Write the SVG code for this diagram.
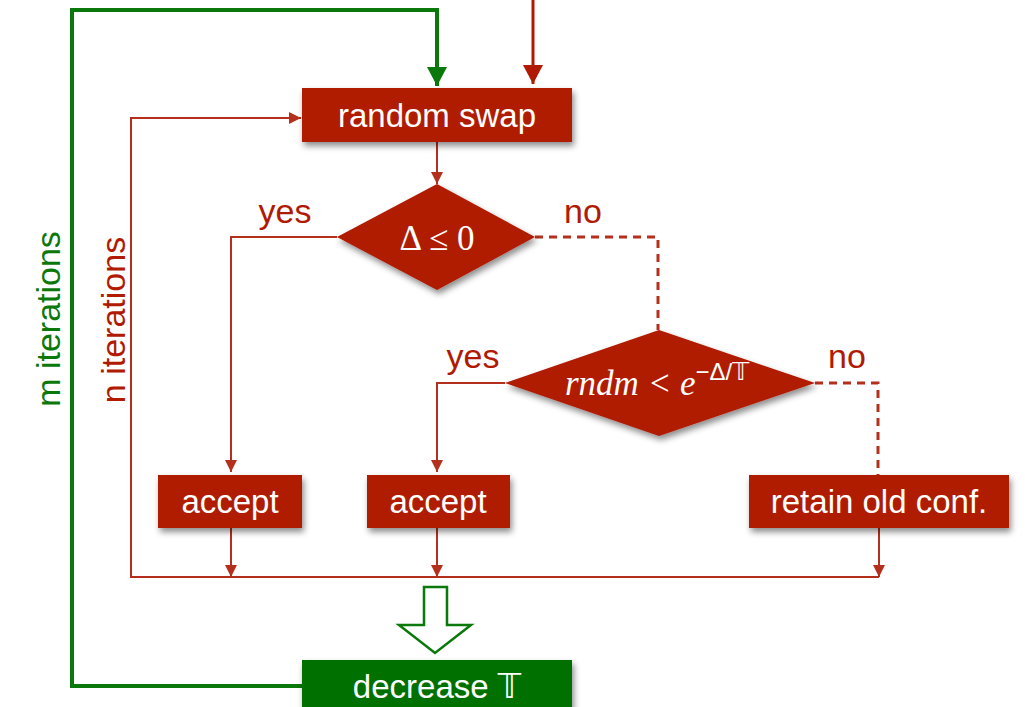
<svg xmlns="http://www.w3.org/2000/svg" width="1025" height="707" viewBox="0 0 1025 707">
  <style>
    .box { fill: #b01a02; filter: url(#shadow); }
    .gbox { fill: #006f00; filter: url(#shadow); }
    .lbl { font-family: "Liberation Sans", Arial, sans-serif; font-size: 33px; fill: #ffffff; text-anchor: middle; }
    .side { font-family: "Liberation Sans", Arial, sans-serif; font-size: 34px; fill: #b01a02; text-anchor: middle; }
    .red { fill: none; stroke: #b4301c; stroke-width: 2; }
    .redbig { fill: none; stroke: #b01a02; stroke-width: 3; }
    .dash { fill: none; stroke: #b4301c; stroke-width: 3; stroke-dasharray: 8 6; }
    .green { fill: none; stroke: #0a780a; stroke-width: 4; }
  </style>
  <defs>
    <filter id="shadow" x="-10%" y="-20%" width="125%" height="150%">
      <feDropShadow dx="2" dy="4" stdDeviation="3" flood-color="#000" flood-opacity="0.45"/>
    </filter>
    <marker id="arr" markerUnits="userSpaceOnUse" markerWidth="12" markerHeight="12" refX="12" refY="6" orient="auto">
      <path d="M0,0 L12,6 L0,12 z" fill="#b4301c"/>
    </marker>
    <marker id="arrBigRed" markerUnits="userSpaceOnUse" markerWidth="20" markerHeight="20" refX="19" refY="10" orient="auto">
      <path d="M0,0 L19,10 L0,20 z" fill="#b01a02"/>
    </marker>
    <marker id="arrBigGreen" markerUnits="userSpaceOnUse" markerWidth="20" markerHeight="20" refX="19" refY="10" orient="auto">
      <path d="M0,0 L19,10 L0,20 z" fill="#0a780a"/>
    </marker>
  </defs>

  <rect width="1025" height="707" fill="#ffffff"/>

  <!-- connectors -->
  <g id="connectors">
    <path class="green" d="M302,686 H72 V10 H437 V86" marker-end="url(#arrBigGreen)"/>
    <path class="redbig" d="M533,0 V84" marker-end="url(#arrBigRed)"/>
    <path class="red" d="M437,142 V184" marker-end="url(#arr)"/>
    <path class="red" d="M337,237 H231 V472" marker-end="url(#arr)"/>
    <path class="dash" d="M535,237 H658 V330"/>
    <path class="red" d="M505,383 H437 V472" marker-end="url(#arr)"/>
    <path class="dash" d="M815,383 H878 V475"/>
    <path class="red" d="M231,528 V577" marker-end="url(#arr)"/>
    <path class="red" d="M437,528 V577" marker-end="url(#arr)"/>
    <path class="red" d="M879,528 V577" marker-end="url(#arr)"/>
    <path class="red" d="M879,577 H131 V118 H301" marker-end="url(#arr)"/>
    <!-- hollow arrow into the cooling step -->
    <path d="M424,587 H447 V625 H471 L435,653 L399,625 H424 Z" fill="#ffffff" stroke="#0a780a" stroke-width="2.5" stroke-linejoin="miter"/>
  </g>

  <!-- loop labels -->
  <text class="side" transform="translate(60,319) rotate(-90)" style="fill:#0a780a">m iterations</text>
  <text class="side" transform="translate(125,320) rotate(-90)">n iterations</text>

  <!-- branch labels -->
  <text class="side" x="285" y="223">yes</text>
  <text class="side" x="583" y="223">no</text>
  <text class="side" x="473" y="368">yes</text>
  <text class="side" x="847" y="368">no</text>

  <g id="random-swap">
    <rect class="box" x="302" y="88" width="270" height="54"/>
    <text class="lbl" x="437" y="127">random swap</text>
  </g>

  <g id="test-delta">
    <polygon class="box" points="437,184 535,237 437,290 337,237"/>
    <text x="437" y="250" text-anchor="middle" font-family="'Liberation Serif', 'Times New Roman', serif" font-size="35" fill="#ffffff">Δ ≤ 0</text>
  </g>

  <g id="test-metropolis">
    <polygon class="box" points="659,330 815,383 659,436 505,383"/>
    <text x="565" y="395" font-family="'Liberation Serif', 'Times New Roman', serif" font-size="35" font-style="italic" fill="#ffffff">rndm &lt; e<tspan dy="-15" font-size="24" font-style="normal" font-family="'Liberation Sans', 'DejaVu Sans', sans-serif">−Δ/𝕋</tspan></text>
  </g>

  <g id="accept-1">
    <rect class="box" x="158" y="475" width="144" height="53"/>
    <text class="lbl" x="230" y="513">accept</text>
  </g>

  <g id="accept-2">
    <rect class="box" x="367" y="475" width="143" height="53"/>
    <text class="lbl" x="438" y="513">accept</text>
  </g>

  <g id="retain">
    <rect class="box" x="749" y="475" width="260" height="53"/>
    <text class="lbl" x="879" y="513">retain old conf.</text>
  </g>

  <g id="decrease-temperature">
    <rect class="gbox" x="302" y="660" width="270" height="54"/>
    <text class="lbl" x="437" y="698">decrease <tspan font-family="'DejaVu Sans', sans-serif">𝕋</tspan></text>
  </g>
</svg>
